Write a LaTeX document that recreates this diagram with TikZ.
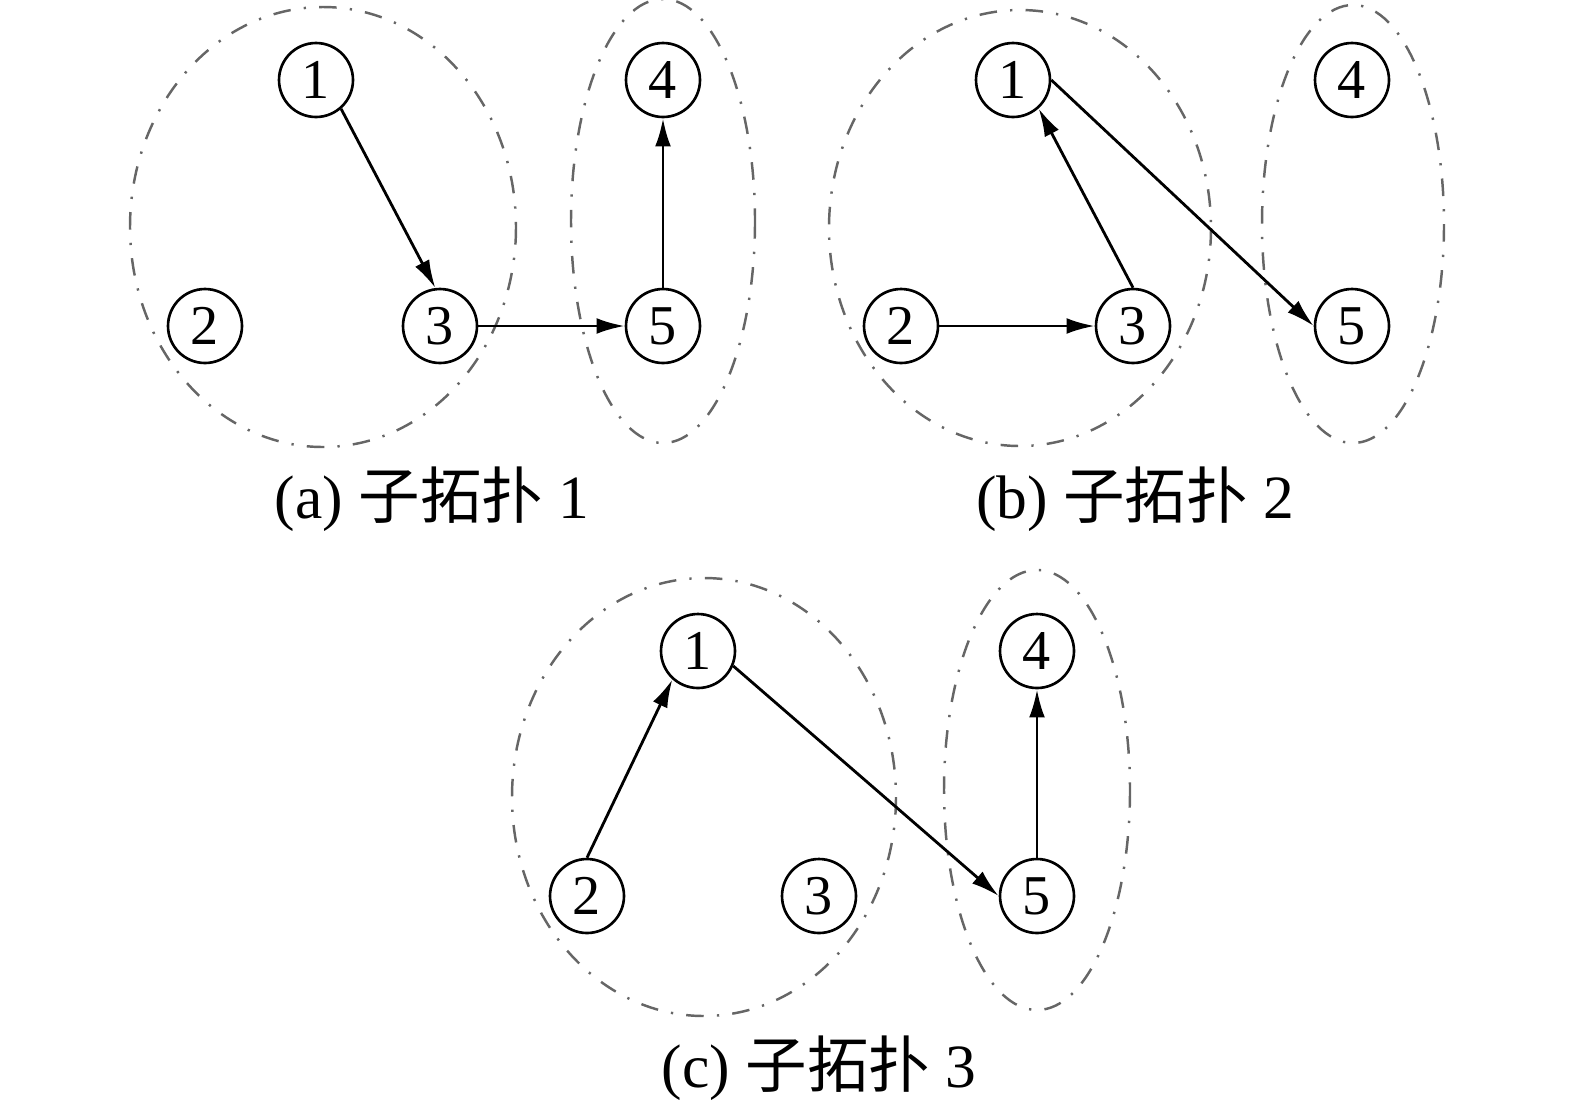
\documentclass[tikz,border=0pt]{standalone}
\usepackage{fontspec}
\setmainfont{Liberation Serif}
\newfontfamily\cjk{Noto Sans CJK SC}
\usetikzlibrary{arrows.meta}
\begin{document}
\begin{tikzpicture}[x=0.02cm,y=-0.02cm,
  vtx/.style={circle,draw,line width=1.5pt,minimum size=1.48cm,inner sep=0pt,font=\fontsize{32}{36}\selectfont},
  grp/.style={draw=black!60,line width=1.4pt,dash pattern=on 10pt off 7.5pt on 1.3pt off 7.5pt},
  edge/.style={line width=1.6pt,-{Latex[length=16pt,width=9pt]}},
  captxt/.style={font=\fontsize{35}{40}\selectfont}]
\useasboundingbox (0,0) rectangle (1575,1110);
% (a)
\draw[grp] (323,227) ellipse [x radius=193, y radius=220];
\draw[grp] (663,221) ellipse [x radius=92, y radius=222];
\node[vtx] (a1) at (316,80) {1};
\node[vtx] (a2) at (205,326) {2};
\node[vtx] (a3) at (440,326) {3};
\node[vtx] (a4) at (663,80) {4};
\node[vtx] (a5) at (663,326) {5};
\draw[edge] (a1.-49) -- (a3.97);
\draw[edge] (a3) -- (a5);
\draw[edge] (a5) -- (a4);
\node[captxt] (capa) at (432,499) {(a) {\cjk 子拓扑} 1};
% (b)
\draw[grp] (1020,228) ellipse [x radius=191, y radius=218];
\draw[grp] (1353,224) ellipse [x radius=91, y radius=219];
\node[vtx] (b1) at (1013,80) {1};
\node[vtx] (b2) at (901,326) {2};
\node[vtx] (b3) at (1133,326) {3};
\node[vtx] (b4) at (1352,80) {4};
\node[vtx] (b5) at (1352,326) {5};
\draw[edge] (b1.east) -- (b5.west);
\draw[edge] (b3.north) -- (b1.-48);
\draw[edge] (b2) -- (b3);
\node[captxt] (capb) at (1135,499) {(b) {\cjk 子拓扑} 2};
% (c)
\draw[grp] (704,797) ellipse [x radius=192, y radius=219];
\draw[grp] (1037,790) ellipse [x radius=93, y radius=220];
\node[vtx] (c1) at (698,651) {1};
\node[vtx] (c2) at (587,896) {2};
\node[vtx] (c3) at (819,896) {3};
\node[vtx] (c4) at (1037,651) {4};
\node[vtx] (c5) at (1037,896) {5};
\draw[edge] (c2.north) -- (c1.-132);
\draw[edge] (c1.-23) -- (c5.west);
\draw[edge] (c5) -- (c4);
\node[captxt] (capc) at (819,1068) {(c) {\cjk 子拓扑} 3};
\end{tikzpicture}
\end{document}
